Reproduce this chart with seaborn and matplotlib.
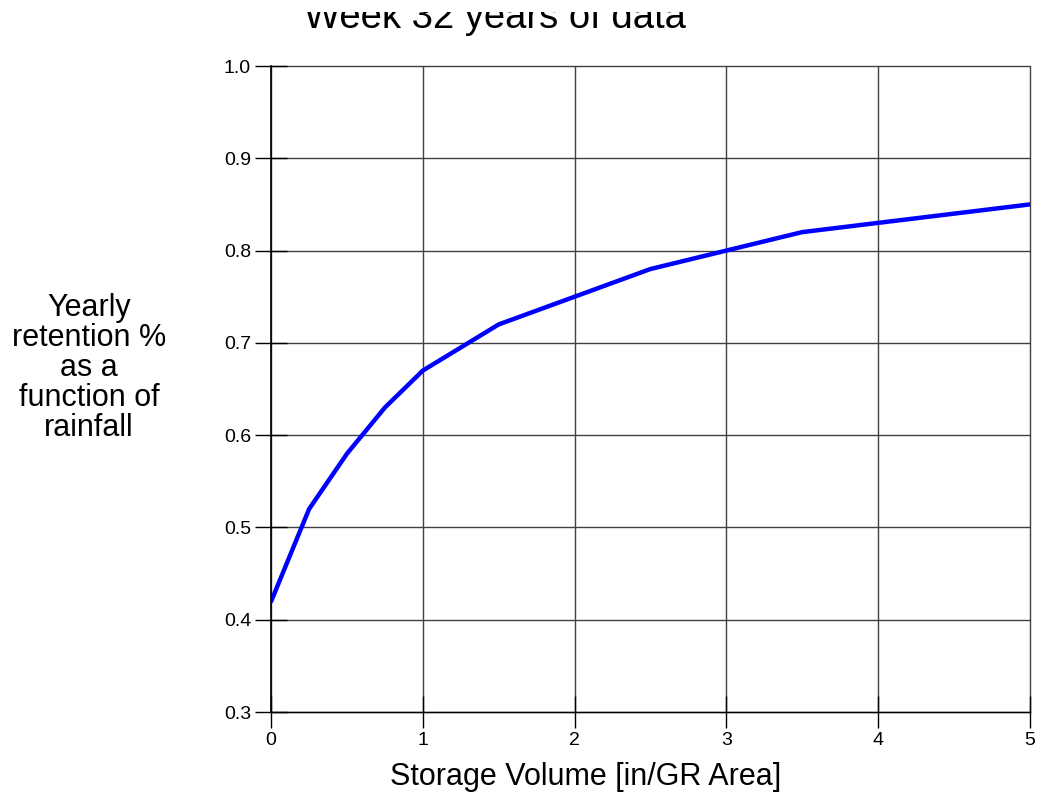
import matplotlib
matplotlib.use("Agg")
import matplotlib.pyplot as plt
import matplotlib.patches as mpatches
import seaborn as sns
import pandas as pd

storage_volume = [0, 0.25, 0.5, 0.75, 1.0, 1.5, 2.0, 2.5, 3.0, 3.5, 4.0, 5.0]
retention = [0.42, 0.52, 0.58, 0.63, 0.67, 0.72, 0.75, 0.78, 0.80, 0.82, 0.83, 0.85]
x_ticks = [0, 1, 2, 3, 4, 5]
y_ticks = [0.3, 0.4, 0.5, 0.6, 0.7, 0.8, 0.9, 1.0]

sns.set_theme(style="white")
plt.rcParams['font.family'] = ['Liberation Sans', 'DejaVu Sans']
plt.rcParams['text.color'] = 'black'
plt.rcParams['xtick.color'] = 'black'
plt.rcParams['ytick.color'] = 'black'

df = pd.DataFrame({"x": storage_volume, "y": retention})

fig = plt.figure(figsize=(10.39, 8.06), dpi=100)
ax = fig.add_axes([0.261, 0.1166, 0.730, 0.8015])
sns.lineplot(data=df, x="x", y="y", ax=ax, color="#0000FF", linewidth=3.2)

ax.set_xlim(0, 5)
ax.set_ylim(0.3, 1.0)
ax.set_xticks(x_ticks)
ax.set_yticks(y_ticks)
ax.set_xticklabels([str(v) for v in x_ticks])
ax.set_yticklabels([f"{v:.1f}" for v in y_ticks])
ax.grid(True, color="#404040", linewidth=1.0)
for gl in ax.get_xgridlines() + ax.get_ygridlines():
    gl.set_clip_on(False)
ax.set_axisbelow(True)
for s in ["top", "right"]:
    ax.spines[s].set_visible(False)
ax.spines["left"].set_color("black")
ax.spines["left"].set_linewidth(1.2)
ax.spines["bottom"].set_color("black")
ax.spines["bottom"].set_linewidth(1.0)
ax.tick_params(axis="both", direction="inout", length=23, width=1,
               labelsize=14, pad=3, left=True, bottom=True, labelcolor="black")
ax.set_xlabel("")
ax.set_ylabel("")

fig.text(0.564, 1 - 785 / 806, "Storage Volume [in/GR Area]", ha="center", va="baseline", fontsize=22)
fig.text(0.0855, 0.544, "Yearly\nretention %\nas a\nfunction of\nrainfall", ha="center", va="center",
         fontsize=22, multialignment="center", linespacing=1.0)
fig.text(0.476, 1 - 28 / 806, "Week 32 years of data", ha="center", va="baseline", fontsize=27.5)
fig.patches.append(mpatches.Rectangle((0, 1 - 12 / 806), 1, 12 / 806, transform=fig.transFigure,
                                      facecolor="white", edgecolor="none", zorder=10))

fig.savefig("out.png", dpi=100)
